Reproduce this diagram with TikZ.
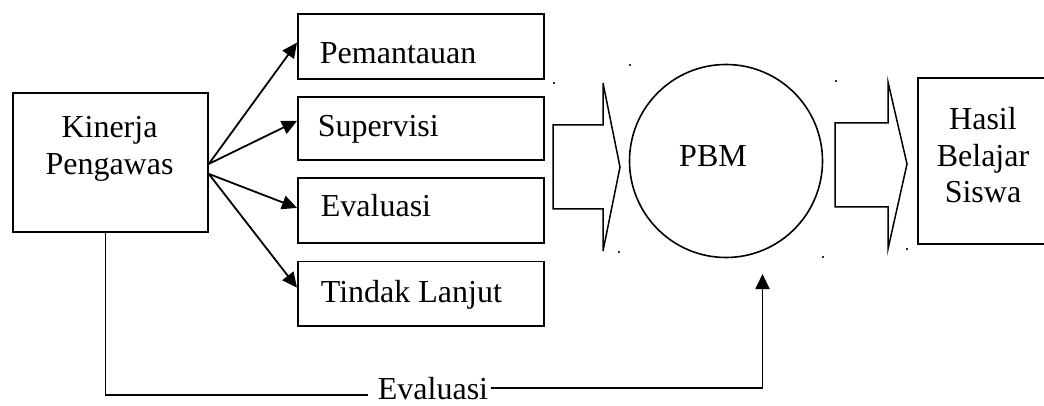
\documentclass[tikz,border=0pt]{standalone}
\usepackage{fontspec}
\setmainfont{Liberation Serif}
\usetikzlibrary{arrows.meta}
\begin{document}
\begin{tikzpicture}[x=1pt,y=-1pt,
  line width=1.8pt,
  box/.style={draw,rectangle,inner sep=0pt,anchor=north west},
  txt/.style={inner sep=0pt,font=\fontsize{32}{37}\selectfont},
  arr/.style={-{Triangle[length=15pt,width=14pt]}},
  dot/.style={fill=black!80,draw=none,minimum size=2pt,inner sep=0pt}]
\useasboundingbox (0,0) rectangle (1044,406);
\clip (0,0) rectangle (1044,406);
% boxes
\node[box,minimum width=195pt,minimum height=139pt] (kin) at (12,92) {};
\node[box,minimum width=246pt,minimum height=64.5pt] (pem) at (297,13.5) {};
\node[box,minimum width=246pt,minimum height=63pt] (sup) at (297,96) {};
\node[box,minimum width=246pt,minimum height=65pt] (eva) at (297,177) {};
\node[box,minimum width=246pt,minimum height=64.5pt] (tin) at (297,260.5) {};
\node[box,minimum width=140pt,minimum height=166pt] (hasil) at (917,77) {};
\node[draw,circle,minimum size=193pt,inner sep=0pt,line width=1.6pt] (pbm) at (726,161) {};
% texts
\node[txt,anchor=base] (t1) at (109.5,138) {Kinerja};
\node[txt,anchor=base] (t2) at (109.5,175) {Pengawas};
\node[txt,anchor=base west] (tp) at (319,64) {Pemantauan};
\node[txt,anchor=base west] (ts) at (317,137) {Supervisi};
\node[txt,anchor=base west] (te) at (320,217) {Evaluasi};
\node[txt,anchor=base west] (tt) at (320,302) {Tindak Lanjut};
\node[txt,anchor=base] (tpbm) at (713,167) {PBM};
\node[txt,anchor=base] (th1) at (983,130) {Hasil};
\node[txt,anchor=base] (th2) at (983,167) {Belajar};
\node[txt,anchor=base] (th3) at (983,203) {Siswa};
\node[txt,anchor=base west] (evlb) at (377,399) {Evaluasi};
% arrows from Kinerja
\draw[arr] ([yshift=-1.5pt]kin.east) -- ([yshift=4pt]pem.west);
\draw[arr] ([yshift=-1.5pt]kin.east) -- ([yshift=7.5pt]sup.west);
\draw[arr] ([yshift=-11.5pt]kin.east) -- ([yshift=2.5pt]eva.west);
\draw[arr] ([yshift=-11.5pt]kin.east) -- ([yshift=6pt]tin.west);
% block arrows
\draw[line width=1.5pt] (553,125) -- (603,125) -- (603,83) -- (620,167) -- (603,251) -- (603,209) -- (553,209) -- cycle;
\draw[line width=1.5pt] (835,123) -- (888,123) -- (888,82) -- (907,164) -- (888,249) -- (888,207) -- (835,207) -- cycle;
% stray dots
\foreach \p/\n in {{(630,65)}/d1,{(554,83)}/d2,{(619,252)}/d3,{(823,257)}/d4,{(836,81)}/d5,{(907,249)}/d6}
  \node[dot] (\n) at \p {};
% feedback line
\coordinate (c1) at (105.5,394.7);
\coordinate (c2) at (762.5,388);
\coordinate (pbmin) at (762.5,274);
\draw (kin.south -| c1) -- (c1) -- ([xshift=-9pt]evlb.base west |- c1);
\draw[arr] ([xshift=2pt]evlb.base east |- c2) -- (c2) -- (pbmin);
\end{tikzpicture}
\end{document}
